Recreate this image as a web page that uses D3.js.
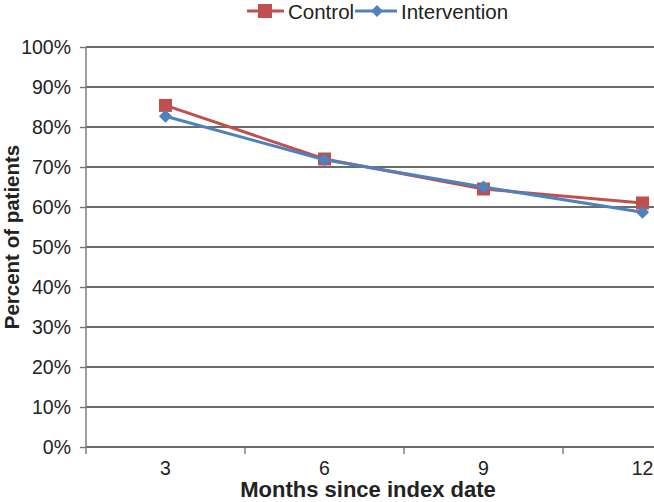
<!DOCTYPE html>
<html><head><meta charset="utf-8">
<script src="https://cdn.jsdelivr.net/npm/d3@7"></script>
<style>body{margin:0;background:#fff;}svg{display:block;}text{font-family:"Liberation Sans",Arial,sans-serif;fill:#222;}</style>
</head><body>
<svg id="c" width="654" height="502"></svg>
<script>
const months = ["3","6","9","12"];
const control = [85.4, 72.0, 64.5, 61.0];
const intervention = [82.7, 71.8, 65.0, 58.7];
const yTicks = [0,10,20,30,40,50,60,70,80,90,100];

const svg = d3.select("#c");
const W = 654, H = 502;
const pLeft = 86, pRight = 722, pTop = 47, pBottom = 447;
const x = d3.scaleBand().domain(months).range([pLeft, pRight]).padding(0);
const y = d3.scaleLinear().domain([0,100]).range([pBottom, pTop]);

// gridlines
svg.append("g").selectAll("line").data(yTicks).join("line")
  .attr("x1", pLeft).attr("x2", W).attr("y1", d=>y(d)).attr("y2", d=>y(d))
  .attr("stroke", "#3a3a3a").attr("stroke-width", 1.4);

// y axis
const ya = svg.append("g").attr("transform",`translate(${pLeft},0)`)
  .call(d3.axisLeft(y).tickValues(yTicks).tickFormat(d=>d+"%").tickSize(6).tickPadding(9));
ya.select(".domain").attr("stroke","#777").attr("stroke-width",1.4).attr("d",`M-0,${pTop}V${pBottom}`);
ya.selectAll(".tick line").attr("stroke","#777").attr("stroke-width",1.4);
ya.selectAll(".tick text").style("font-size","19.5px").attr("fill","#222");

// x axis
const xa = svg.append("g").attr("transform",`translate(0,${pBottom})`)
  .call(d3.axisBottom(x).tickSize(0).tickPadding(14));
xa.select(".domain").remove();
xa.selectAll(".tick text").style("font-size","19.5px").attr("fill","#222");
const bounds = months.map(m=>x(m)).concat([pRight]);
xa.append("g").selectAll("line").data(bounds).join("line")
  .attr("x1",d=>d).attr("x2",d=>d).attr("y1",0).attr("y2",7)
  .attr("stroke","#777").attr("stroke-width",1.4);

// axis titles
svg.append("text").attr("x", 368).attr("y", 497).attr("text-anchor","middle")
  .style("font-size","22px").style("font-weight","bold").text("Months since index date");
svg.append("text").attr("transform",`translate(19,237) rotate(-90)`)
  .attr("text-anchor","middle").style("font-size","20.5px").style("font-weight","bold").text("Percent of patients");

const cx = m => x(m) + x.bandwidth()/2;
const line = d3.line().x((d,i)=>cx(months[i])).y(d=>y(d));
const cC = "#C0504D", cI = "#4F81BD";

svg.append("path").datum(control).attr("d", line).attr("fill","none").attr("stroke",cC).attr("stroke-width",3);
svg.append("g").selectAll("rect").data(control).join("rect")
  .attr("x",(d,i)=>cx(months[i])-6.5).attr("y",d=>y(d)-6.5).attr("width",13).attr("height",13).attr("fill",cC);

svg.append("path").datum(intervention).attr("d", line).attr("fill","none").attr("stroke",cI).attr("stroke-width",3);
const diamond = d3.symbol().type(d3.symbolDiamond2).size(110);
svg.append("g").selectAll("path").data(intervention).join("path")
  .attr("transform",(d,i)=>`translate(${cx(months[i])},${y(d)})`).attr("d", diamond).attr("fill",cI);

// legend
const lg = svg.append("g");
lg.append("line").attr("x1",247).attr("x2",284).attr("y1",11).attr("y2",11).attr("stroke",cC).attr("stroke-width",3);
lg.append("rect").attr("x",258).attr("y",4).attr("width",14).attr("height",14).attr("fill",cC);
lg.append("text").attr("x",288).attr("y",19).style("font-size","20.5px").text("Control");
lg.append("line").attr("x1",355).attr("x2",397).attr("y1",11).attr("y2",11).attr("stroke",cI).attr("stroke-width",3);
lg.append("path").attr("transform","translate(377,11)").attr("d", d3.symbol().type(d3.symbolDiamond2).size(90)).attr("fill",cI);
lg.append("text").attr("x",401).attr("y",19).style("font-size","20.5px").text("Intervention");
</script>
</body></html>
